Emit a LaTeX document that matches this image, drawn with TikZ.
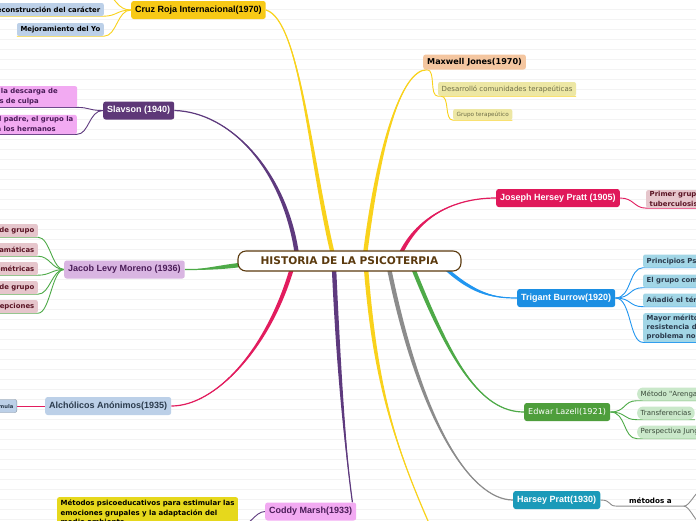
\documentclass[tikz,border=0pt]{standalone}
\usepackage{fontspec}
\newfontfamily\arialf{Liberation Sans}
\newfontfamily\verdf{DejaVu Sans}
\usetikzlibrary{calc}

\pgfdeclarelayer{paper}
\pgfdeclarelayer{edges}
\pgfsetlayers{paper,edges,main}

\definecolor{rootBrown}{HTML}{5B3A0E}
\definecolor{yelB}{HTML}{F9D21C}
\definecolor{purB}{HTML}{5E3A7E}
\definecolor{crimB}{HTML}{E21C5E}
\definecolor{greenB}{HTML}{4EAA48}
\definecolor{blueB}{HTML}{2196F0}
\definecolor{grayB}{HTML}{8C8C8C}
\definecolor{cruzY}{HTML}{F7C916}
\definecolor{subBlue}{HTML}{BCD0E8}
\definecolor{slavPur}{HTML}{5E3878}
\definecolor{pinkSub}{HTML}{F2AAF2}
\definecolor{jacobBox}{HTML}{D9B5E2}
\definecolor{jacobKid}{HTML}{E6C6CC}
\definecolor{maroonT}{HTML}{5A1424}
\definecolor{darkPur}{HTML}{4A1C58}
\definecolor{metY}{HTML}{E6D81C}
\definecolor{peach}{HTML}{F4C6A0}
\definecolor{paleY}{HTML}{EDE7A4}
\definecolor{oliveT}{HTML}{6E6E48}
\definecolor{josephR}{HTML}{E0185A}
\definecolor{trigB}{HTML}{1C8FE3}
\definecolor{trigKid}{HTML}{A2D6E6}
\definecolor{slateT}{HTML}{2A3A4C}
\definecolor{edwG}{HTML}{4E9E3C}
\definecolor{edwKid}{HTML}{CAE8CA}
\definecolor{edwT}{HTML}{3A4A3A}
\definecolor{harT}{HTML}{1B9AB9}
\definecolor{paperLine}{HTML}{F3F3F3}

% tapered main branch: colour, start, control 1, control 2, end, half width
\newcommand{\branch}[6]{%
  \fill[#1] ($(#2)+(#6)$) .. controls ($(#3)+(#6)$) and (#4) .. (#5)
    .. controls (#4) and ($(#3)-(#6)$) .. ($(#2)-(#6)$) -- cycle;
  \draw[#1, line width=1.2] (#2) .. controls (#3) and (#4) .. (#5);}

\begin{document}
\begin{tikzpicture}[x=1pt, y=-1pt,
  root/.style={draw=rootBrown, line width=1.1, fill=white, rounded corners=8,
    minimum width=223, minimum height=20, text=rootBrown,
    font=\verdf\bfseries\fontsize{10.6}{12}\selectfont},
  topic/.style={rounded corners=2.5, minimum height=18, inner xsep=4, inner ysep=0,
    font=\arialf\bfseries\fontsize{9}{10}\selectfont},
  sub/.style={rounded corners=2, minimum height=13, inner xsep=3.5, inner ysep=1.5,
    align=left, font=\verdf\bfseries\fontsize{6.9}{9.5}\selectfont},
  sublink/.style={line width=.9},
  paperline/.style={paperLine, line width=.6}]

\useasboundingbox (0,0) rectangle (696,520);
\clip (0,0) rectangle (696,520);

% Paper
\begin{pgfonlayer}{paper}
\fill[white] (0,0) rectangle (696,520);
\foreach \y in {9,19,...,519}
  \draw[paperline] (0,\y) -- (696,\y);
\end{pgfonlayer}

% Central topic
\node[root] (root) at (349.5,261) {HISTORIA DE LA PSICOTERPIA};

% Left side
\node[topic, fill=cruzY, anchor=west] (cruz) at (131,10) {Cruz Roja Internacional(1970)};
\node[sub, fill=subBlue, anchor=east] (recon) at (104,9.5) {Reconstrucción del carácter};
\node[sub, fill=subBlue, anchor=east] (mejora) at (104,29.5) {Mejoramiento del Yo};

\node[topic, fill=slavPur, text=white, anchor=west] (slavson) at (103,110.5) {Slavson (1940)};
\node[sub, fill=pinkSub, text=darkPur, anchor=north west, text width=120.7, minimum height=21] (slavA) at (-50.7,86)
  {Se favorece la descarga de\\sentimientos de culpa};
\node[sub, fill=pinkSub, text=darkPur, anchor=east] (slavB) at (77,124.5)
  {El terapeuta representa al padre, el grupo la\\madre y los compañeros a los hermanos};

\node[topic, fill=jacobBox, text=darkPur, anchor=west] (jacob) at (64,269.5) {Jacob Levy Moreno (1936)};
\foreach \t [count=\i] in {Psicoterapia de grupo, Técnicas dramáticas,
    Pruebas sociométricas, Dinámica de grupo, Intercambio de percepciones}
  \node[sub, fill=jacobKid, text=maroonT, anchor=east] (jac\i) at (38,{211.5+19*\i}) {\t};

\node[topic, fill=subBlue, text=slateT, anchor=west] (alcoh) at (45,406) {Alchólicos Anónimos(1935)};
\node[sub, draw=subBlue!70!black, fill=subBlue, text=slateT, anchor=east,
  font=\verdf\bfseries\fontsize{5.2}{6}\selectfont] (formula) at (17,406) {Fórmula};

\node[sub, fill=metY, text=black, anchor=north west, inner ysep=3,
  font=\verdf\bfseries\fontsize{7}{9.5}\selectfont] (metodos) at (57,497)
  {Métodos psicoeducativos para estimular las\\emociones grupales y la adaptación del\\medio ambiente};
\node[topic, fill=pinkSub, text=darkPur, anchor=west] (coddy) at (265,511.5) {Coddy Marsh(1933)};

% Right side
\node[topic, fill=peach, anchor=west, minimum height=15,
  font=\verdf\bfseries\fontsize{8.1}{9}\selectfont] (maxwell) at (423,62) {Maxwell Jones(1970)};
\node[sub, fill=paleY, text=oliveT, anchor=west, minimum height=14,
  font=\verdf\fontsize{7}{8}\selectfont] (desarrollo) at (438,89) {Desarrolló comunidades terapeúticas};
\node[sub, fill=paleY, text=oliveT, anchor=west, minimum height=11,
  font=\verdf\fontsize{5.7}{6}\selectfont] (grupo) at (453,114.5) {Grupo terapeútico};

\node[topic, fill=josephR, text=white, anchor=west] (joseph) at (496,198) {Joseph Hersey Pratt (1905)};
\node[sub, fill=jacobKid, text=maroonT, anchor=west] (primer) at (646,199)
  {Primer grupo con enfermos de\\tuberculosis};

\node[topic, fill=trigB, text=white, anchor=west] (trigant) at (517,298) {Trigant Burrow(1920)};
\node[sub, fill=trigKid, text=slateT, anchor=west] (triA) at (643,261) {Principios Psicoanalíticos};
\node[sub, fill=trigKid, text=slateT, anchor=west] (triB) at (643,281) {El grupo como unidad};
\node[sub, fill=trigKid, text=slateT, anchor=west] (triC) at (643,300) {Añadió el término grupoanálisis};
\node[sub, fill=trigKid, text=slateT, anchor=north west, inner ysep=2, align=left,
  font=\verdf\bfseries\fontsize{6.9}{9}\selectfont] (triD) at (643,313)
  {Mayor mérito: descubrir la\\resistencia del grupo ante el\\problema no resuelto};

\node[topic, fill=edwG, text=white, anchor=west,
  font=\verdf\fontsize{8.1}{9}\selectfont] (edwar) at (524,412) {Edwar Lazell(1921)};
\foreach \t/\n [count=\i] in {Método "Arenga"/edwA, Transferencias/edwB, Perspectiva Junguiana/edwC}
  \node[sub, fill=edwKid, text=edwT, anchor=west, rounded corners=6,
    font=\verdf\fontsize{7}{8}\selectfont] (\n) at (637,{375+19*\i}) {\t};

\node[topic, fill=harT, text=white, anchor=west] (harsey) at (513,500) {Harsey Pratt(1930)};
\node[anchor=west, inner xsep=12, inner ysep=2,
  font=\verdf\bfseries\fontsize{7.2}{8}\selectfont] (metA) at (617,501) {métodos a};

% Branches
\begin{pgfonlayer}{edges}
\coordinate (sCruz) at ($(root)+(-16.5,-6)$);
\coordinate (sSlav) at ($(root)+(-52.5,-6)$);
\coordinate (sMax) at ($(root)+(15.5,-6)$);
\coordinate (sJos) at ($(root)+(50.5,-6)$);
\coordinate (sTri) at ($(root)+(95.5,7)$);
\coordinate (sEdw) at ($(root)+(63.5,7)$);
\coordinate (sHar) at ($(root)+(39.5,7)$);
\coordinate (sLow) at ($(root)+(16.5,7)$);
\coordinate (sCod) at ($(root)+(-15.5,7)$);
\coordinate (sAlc) at ($(root)+(-57.5,7)$);
\coordinate (sJac) at ($(root)+(-109.5,4)$);
\coordinate (lowEnd) at (432,530);

\branch{yelB}{sCruz}{310,160}{300,20}{cruz.east}{2.2,0}
\branch{purB}{sSlav}{285,170}{230,112}{slavson.east}{2.2,0}
\branch{yelB}{sMax}{378,150}{400,70}{$(maxwell.south west)+(4,0)$}{2.2,0}
\branch{crimB}{sJos}{420,212}{460,198}{joseph.west}{2.2,0}
\branch{blueB}{sTri}{475,295}{495,298}{trigant.west}{0,2.2}
\branch{greenB}{sEdw}{450,360}{480,412}{edwar.west}{2.2,0}
\branch{grayB}{sHar}{420,420}{470,500}{harsey.west}{2.2,0}
\branch{yelB}{sLow}{375,380}{392,440}{lowEnd}{2.2,0}
\branch{purB}{sCod}{340,400}{348,470}{$(coddy.north east)+(-4,0)$}{2.2,0}
\branch{crimB}{sAlc}{268,350}{215,406}{alcoh.east}{2.2,0}
\branch{greenB}{sJac}{215,268}{200,270}{jacob.east}{0,2.2}

% Sub-topic links
\coordinate (cruzUp) at (104,-8);
\draw[sublink, yelB] (cruz.west) .. controls (117,10) and (117,16) .. (recon.south east) -- (recon.south west);
\draw[sublink, yelB] (cruz.west) .. controls (117,10) and (117,36) .. (mejora.south east) -- (mejora.south west);
\draw[sublink, yelB] (cruz.west) .. controls (117,10) and (117,-2) .. (cruzUp);

\foreach \k in {slavA, slavB}
  \draw[sublink, purB] (slavson.west) .. controls +(-14,0) and +(12,0) .. (\k.south east) -- (\k.south west);
\foreach \i in {1,...,5}
  \draw[sublink, greenB] (jacob.west) .. controls +(-12,0) and +(12,0) .. (jac\i.south east) -- (jac\i.south west);
\draw[sublink, crimB] (alcoh.west) -- (formula.east);
\draw[sublink, purB] (coddy.west) .. controls +(-10,0) and +(10,0) .. (metodos.south east) -- (metodos.south west);

\draw[sublink, yelB] ($(maxwell.south west)+(4,0)$) .. controls +(9,0) and +(-9,0) .. (desarrollo.south west) -- (desarrollo.south east);
\draw[sublink, yelB] ($(desarrollo.south west)+(3,0)$) .. controls +(9,0) and +(-9,0) .. (grupo.south west) -- (grupo.south east);
\draw[sublink, crimB] (joseph.east) .. controls +(14,0) and +(-12,0) .. (primer.south west) -- (primer.south east);
\foreach \k in {triA, triB, triC, triD}
  \draw[sublink, blueB] (trigant.east) .. controls +(16,0) and +(-14,0) .. (\k.south west) -- (\k.south east);
\foreach \k in {edwA, edwB, edwC}
  \draw[sublink, greenB] (edwar.east) .. controls +(16,0) and +(-14,0) .. (\k.south west) -- (\k.south east);

\coordinate (harUp) at (702,490);
\coordinate (harDown) at (702,524);
\draw[sublink, grayB] (harsey.east) .. controls +(12,0) and +(-10,0) .. (metA.south west) -- (metA.south east);
\draw[sublink, grayB] (metA.south east) .. controls +(6,0) and +(-6,0) .. (harUp);
\draw[sublink, grayB] (metA.south east) .. controls +(6,0) and +(-6,0) .. (harDown);
\end{pgfonlayer}

\end{tikzpicture}
\end{document}
